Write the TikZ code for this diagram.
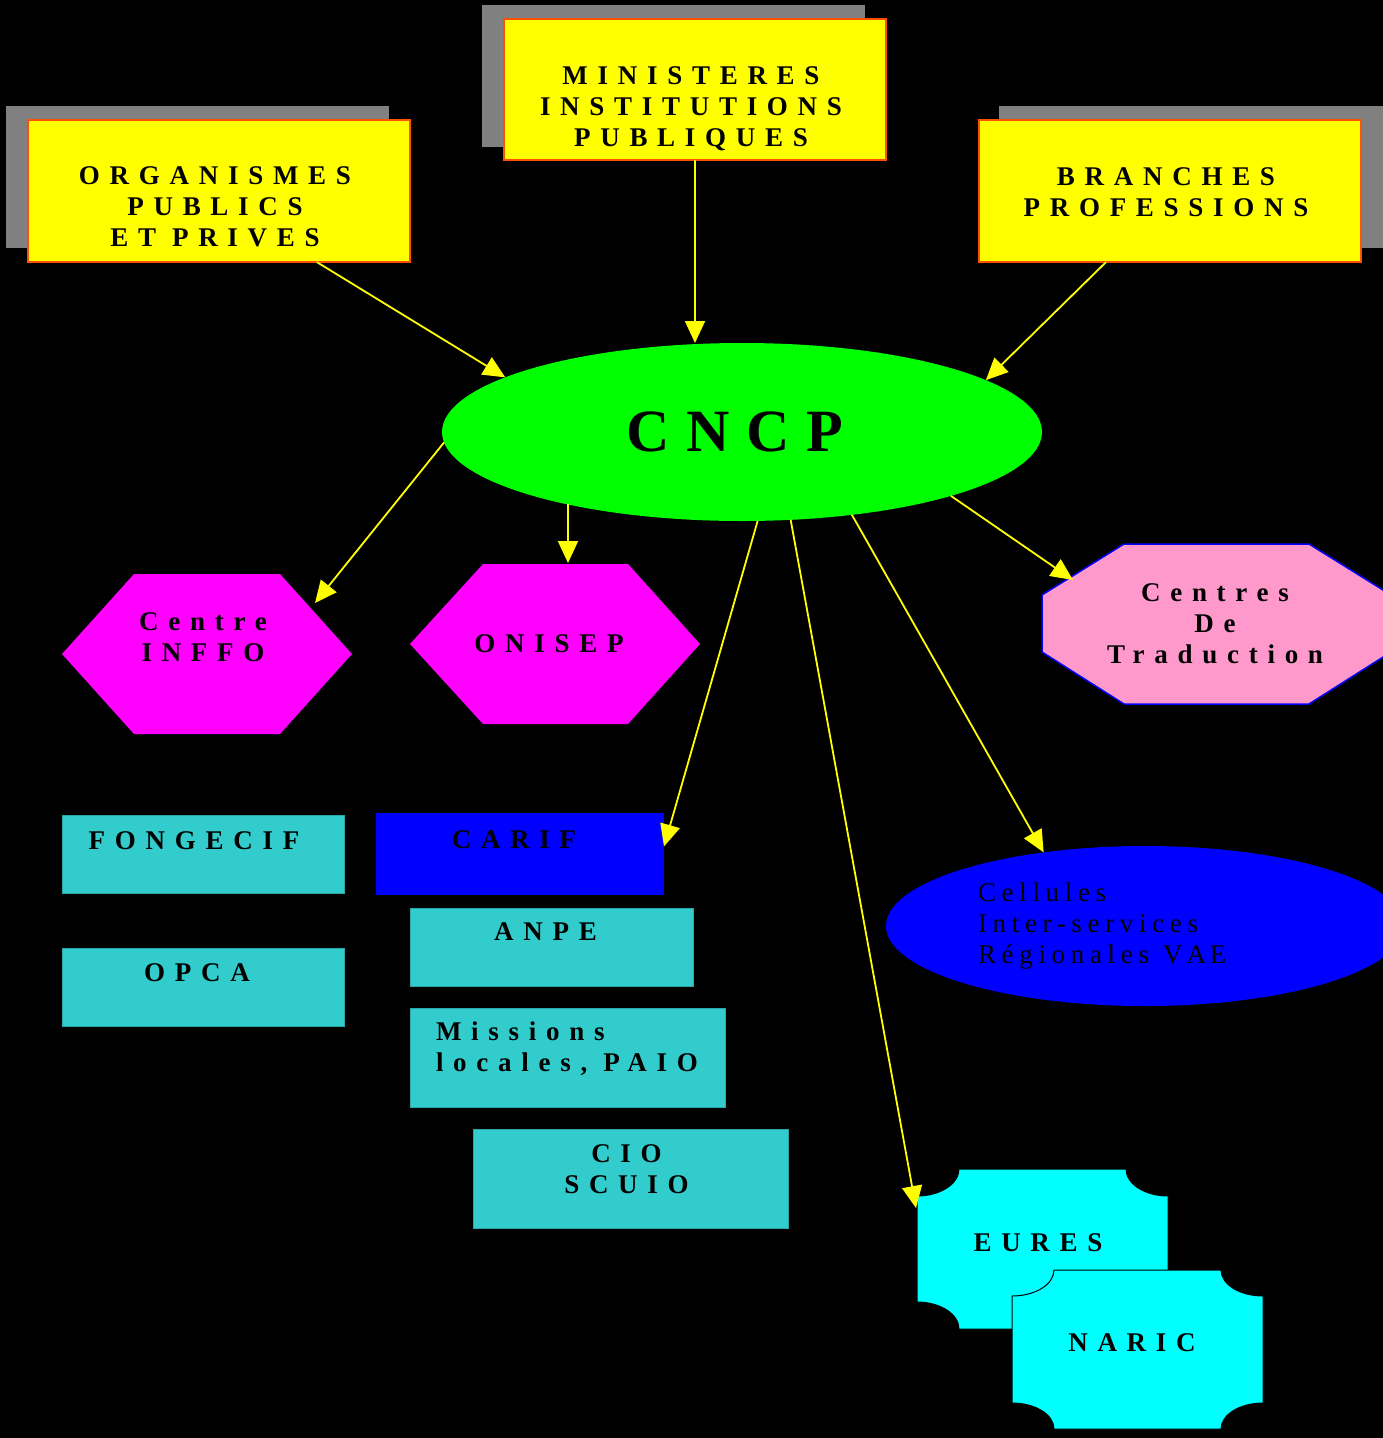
\documentclass[tikz,border=0pt]{standalone}
\usepackage{fontspec}
\setmainfont{Liberation Serif}
\newfontfamily\spacedB[LetterSpace=36]{Liberation Serif}
\newfontfamily\spacedR[LetterSpace=21]{Liberation Serif}
\newfontfamily\spacedC[LetterSpace=28]{Liberation Serif}
\usetikzlibrary{arrows.meta,calc,shapes.geometric}
\definecolor{ybox}{HTML}{FFFF00}
\definecolor{yborder}{HTML}{FF5000}
\definecolor{shadowgray}{HTML}{808080}
\definecolor{cgreen}{HTML}{00FF00}
\definecolor{cmag}{HTML}{FF00FF}
\definecolor{cpink}{HTML}{FF99CC}
\definecolor{cblue}{HTML}{0000FF}
\definecolor{cteal}{HTML}{33CCCC}
\definecolor{ctealdk}{HTML}{2AA8A8}
\definecolor{ccyan}{HTML}{00FFFF}
\definecolor{carrow}{HTML}{FFFF00}
\newcommand\wsp{\kern16pt}
\newcommand\rsp{\kern8pt}
\begin{document}
\begin{tikzpicture}[x=1pt,y=-1pt,
  bt/.style={font=\spacedB\bfseries\fontsize{27}{31}\selectfont, text=black},
  rt/.style={font=\spacedR\fontsize{27}{31}\selectfont, text=black},
  ybox/.style={bt, fill=ybox, draw=yborder, line width=1.5pt, inner sep=0pt, outer sep=0pt, align=center, minimum width=382pt},
  shadowbox/.style={fill=shadowgray},
  tbox/.style={bt, fill=cteal, draw=ctealdk, line width=1pt, inner sep=0pt, outer sep=0pt},
  hexa/.style={fill=cmag},
  plaque/.style={fill=ccyan, draw=black, line width=1pt},
  lbl/.style={bt, inner sep=0pt, anchor=base, align=center},
  conn/.style={draw=carrow, line width=1.8pt, -{Triangle[length=22pt,width=20pt]}},
]
\useasboundingbox (0,0) rectangle (1383,1438);
\clip (0,0) rectangle (1383,1438);
\fill[black] (0,0) rectangle (1383,1438);

% yellow boxes with shadows
\fill[shadowbox] (6,106) rectangle (389,248);
\node[ybox, text height=126.7pt, text depth=15.3pt] (org) at (219,191) {ORGANISMES\rsp\\PUBLICS\rsp\\ET\wsp PRIVES\rsp};
\fill[shadowbox] (482,5) rectangle (865,147);
\node[ybox, text height=127.7pt, text depth=13.3pt] (min) at (695,89.5) {MINISTERES\rsp\\INSTITUTIONS\rsp\\PUBLIQUES\rsp};
\fill[shadowbox] (999,106) rectangle (1383,248);
\node[ybox, text height=96pt, text depth=46pt] (bra) at (1170,191) {BRANCHES\rsp\\PROFESSIONS\rsp};

% CNCP
\node[ellipse, fill=cgreen, minimum width=600pt, minimum height=178pt, inner sep=0pt, outer sep=0pt,
      font=\spacedC\bfseries\fontsize{60}{66}\selectfont] (cncp) at (742,432) {CNCP\kern14pt};

% hexagons
\fill[hexa] (62,654) -- (134,574) -- (280,574) -- (352,654) -- (280,734) -- (134,734) -- cycle;
\node[lbl] (inffo) at (203,661.7) {Centre\\INFFO};
\coordinate (inffoTip) at (315,603);
\fill[hexa] (410,644) -- (483,564) -- (628,564) -- (700,644) -- (628,724) -- (483,724) -- cycle;
\node[lbl] (onisep) at (549,652.7) {ONISEP};
\coordinate (onisepTip) at (568,563);
\coordinate (onisepStart) at (568,504);

% octagon
\filldraw[fill=cpink, draw=cblue, line width=1.5pt] (1042,595) -- (1124,544) -- (1309,544) -- (1391,595) -- (1391,652) -- (1309,704) -- (1124,704) -- (1042,652) -- cycle;
\node[lbl] (trad) at (1215,663) {Centres\\De\\Traduction};
\coordinate (tradTip) at (1073,580);

% boxes
\node[tbox, minimum width=282pt, text height=34pt, text depth=44pt] (fong) at (203,854) {FONGECIF\kern18pt};
\node[tbox, minimum width=282pt, text height=33pt, text depth=45pt] (opca) at (203,987) {OPCA\kern12pt};
\node[bt, fill=cblue, inner sep=0pt, outer sep=0pt, minimum width=288pt, text height=35pt, text depth=47pt] (carif) at (520,854) {CARIF\kern12pt};
\node[tbox, minimum width=283pt, text height=32pt, text depth=46pt] (anpe) at (551.5,947) {ANPE\kern12pt};
\node[tbox, text width=263pt, inner xsep=26pt, align=left, text height=32pt, text depth=67pt] (miss) at (567.5,1057.5) {Missions\\locales,\wsp PAIO};
\node[tbox, minimum width=315pt, align=center, text height=64pt, text depth=35pt] (cio) at (630.5,1178.5) {CIO\rsp\\SCUIO\rsp};

% Cellules
\node[ellipse, fill=cblue, minimum width=518pt, minimum height=160pt, inner sep=0pt, outer sep=0pt,
      rt, text width=334pt, align=left] (cel) at (1145,926) {Cellules\\Inter-services\\Régionales\hspace{14pt}V\kern4pt A\kern4pt E};

% plaques
\path[plaque] (959,1169) -- (1126,1169) .. controls (1126,1183.9) and (1144.8,1196) .. (1168,1196)
  -- (1168,1302) .. controls (1144.8,1302) and (1126,1314.1) .. (1126,1329)
  -- (959,1329) .. controls (959,1314.1) and (940.2,1302) .. (917,1302)
  -- (917,1196) .. controls (940.2,1196) and (959,1183.9) .. (959,1169) -- cycle;
\node[lbl] (eures) at (1038,1251) {EURES};
\coordinate (euresTip) at (916,1208);
\path[plaque] (1054,1270) -- (1221,1270) .. controls (1221,1284.4) and (1239.8,1296) .. (1263,1296)
  -- (1263,1403) .. controls (1239.8,1403) and (1221,1414.6) .. (1221,1429)
  -- (1054,1429) .. controls (1054,1414.6) and (1035.2,1403) .. (1012,1403)
  -- (1012,1296) .. controls (1035.2,1296) and (1054,1284.4) .. (1054,1270) -- cycle;
\node[lbl] (naric) at (1132,1351) {NARIC};

% connectors
\draw[conn] (org.-36.5) -- (cncp.167.6);
\draw[conn] (min.south) -- (min.south |- cncp.north);
\draw[conn] (bra.-132) -- (cncp.12.3);
\draw[conn] (cncp.-178) -- (inffoTip);
\draw[conn] (onisepStart) -- (onisepTip);
\draw[conn] (cncp.-80.4) -- (carif.3.2);
\draw[conn] (cncp.-61.9) -- (euresTip);
\draw[conn] (cncp.-37.25) -- (cel.144.2);
\draw[conn] (cncp.-17.4) -- (tradTip);
\end{tikzpicture}
\end{document}
